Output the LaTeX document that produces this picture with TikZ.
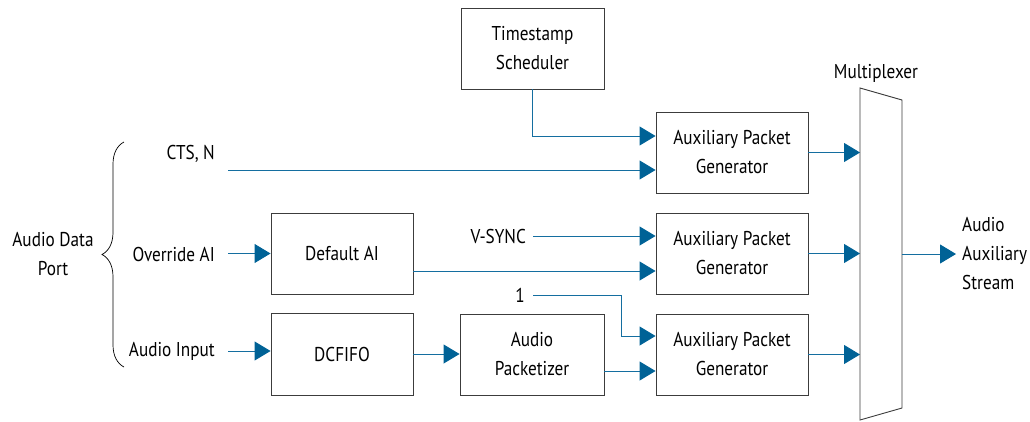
\documentclass[tikz,border=0pt]{standalone}
\usepackage{fontspec}
\setmainfont{PT Sans}[FakeStretch=0.86]
\usetikzlibrary{arrows.meta,decorations.pathreplacing}
\definecolor{linkblue}{RGB}{20,110,160}
\definecolor{tipblue}{RGB}{0,98,150}
\definecolor{boxline}{RGB}{60,60,60}
\tikzset{
  blk/.style={draw=boxline,line width=0.9pt,fill=white,align=center,inner sep=0pt},
  apgbox/.style={blk,minimum width=152pt,minimum height=81pt},
  midbox/.style={blk,minimum width=143pt,minimum height=81pt},
  arr/.style={draw=linkblue,line width=0.9pt,-{Triangle[length=16pt,width=19pt,fill=tipblue,color=tipblue]}},
  lbl/.style={inner sep=0pt,align=center},
  inlbl/.style={anchor=east,inner ysep=0pt,inner xsep=13pt},
}
\begin{document}
\begin{tikzpicture}[x=1pt,y=-1pt,font=\fontsize{20}{29}\selectfont]
\useasboundingbox (0,0) rectangle (1030,421);

% processing blocks
\node[midbox] (ts)  at (532.5,48.5) {Timestamp\\Scheduler};
\node[apgbox] (apg1) at (732,152.5) {Auxiliary Packet\\Generator};
\node[apgbox] (apg2) at (732,253.5) {Auxiliary Packet\\Generator};
\node[apgbox] (apg3) at (732,354.5) {Auxiliary Packet\\Generator};
\node[midbox,minimum width=142pt] (dai) at (342,253.5) {Default AI};
\node[midbox,minimum width=142pt,minimum height=82pt] (dcf) at (342,354) {DCFIFO};
\node[midbox,minimum width=144pt] (pkt) at (532,354.5) {Audio\\Packetizer};

% multiplexer
\draw[boxline,line width=0.9pt,fill=white] (860,88) -- (902,100) -- (902,408) -- (860,420) -- cycle;
\coordinate (muxin) at (860,254);
\coordinate (muxout) at (902,254);
\node[lbl] (muxlbl) at (876,73) {Multiplexer};

% input labels
\node[inlbl] (cts) at (228,154) {CTS, N};
\node[inlbl] (ovr) at (228,254.5) {Override AI};
\node[inlbl] (ain) at (228,351) {Audio Input};
\node[inlbl,inner xsep=7pt] (vs) at (533,236) {V-SYNC};
\node[inlbl,inner xsep=8pt] (one) at (533,295) {1};
\node[lbl] (port) at (53,254) {Audio Data\\Port};
\node[lbl,anchor=west,inner xsep=6pt,align=left] (out) at (956,254) {Audio\\Auxiliary\\Stream};

% brace grouping the port signals
\draw[line width=0.7pt,decorate,decoration={brace,amplitude=22pt}] (124,367) -- (124,142);

% entry points on the generators
\coordinate (a1t) at ([yshift=16.5pt]apg1.west);
\coordinate (a1b) at ([yshift=-17.5pt]apg1.west);
\coordinate (a2t) at ([yshift=17.5pt]apg2.west);
\coordinate (a2b) at ([yshift=-17.5pt]apg2.west);
\coordinate (a3t) at ([yshift=18.5pt]apg3.west);
\coordinate (a3b) at ([yshift=-16.5pt]apg3.west);

% connectors
\draw[arr] (ts.south) |- (a1t);
\draw[arr] (cts.east |- a1b) -- (a1b);
\draw[arr] (ovr.east |- dai.west) -- (dai.west);
\draw[arr] (ain.east) -- (ain.east -| dcf.west);
\draw[arr] (vs.east) -- (a2t);
\draw[arr] (dai.east |- a2b) -- (a2b);
\draw[arr] (one.east) -- ++(88,0) |- (a3t);
\draw[arr] (dcf.east) -- (dcf.east -| pkt.west);
\draw[arr] (pkt.east |- a3b) -- (a3b);
\draw[arr] (apg1.east) -- (apg1.east -| muxin);
\draw[arr] (apg2.east) -- (apg2.east -| muxin);
\draw[arr] (apg3.east) -- (apg3.east -| muxin);
\draw[arr] (muxout) -- (out.west);
\end{tikzpicture}
\end{document}
